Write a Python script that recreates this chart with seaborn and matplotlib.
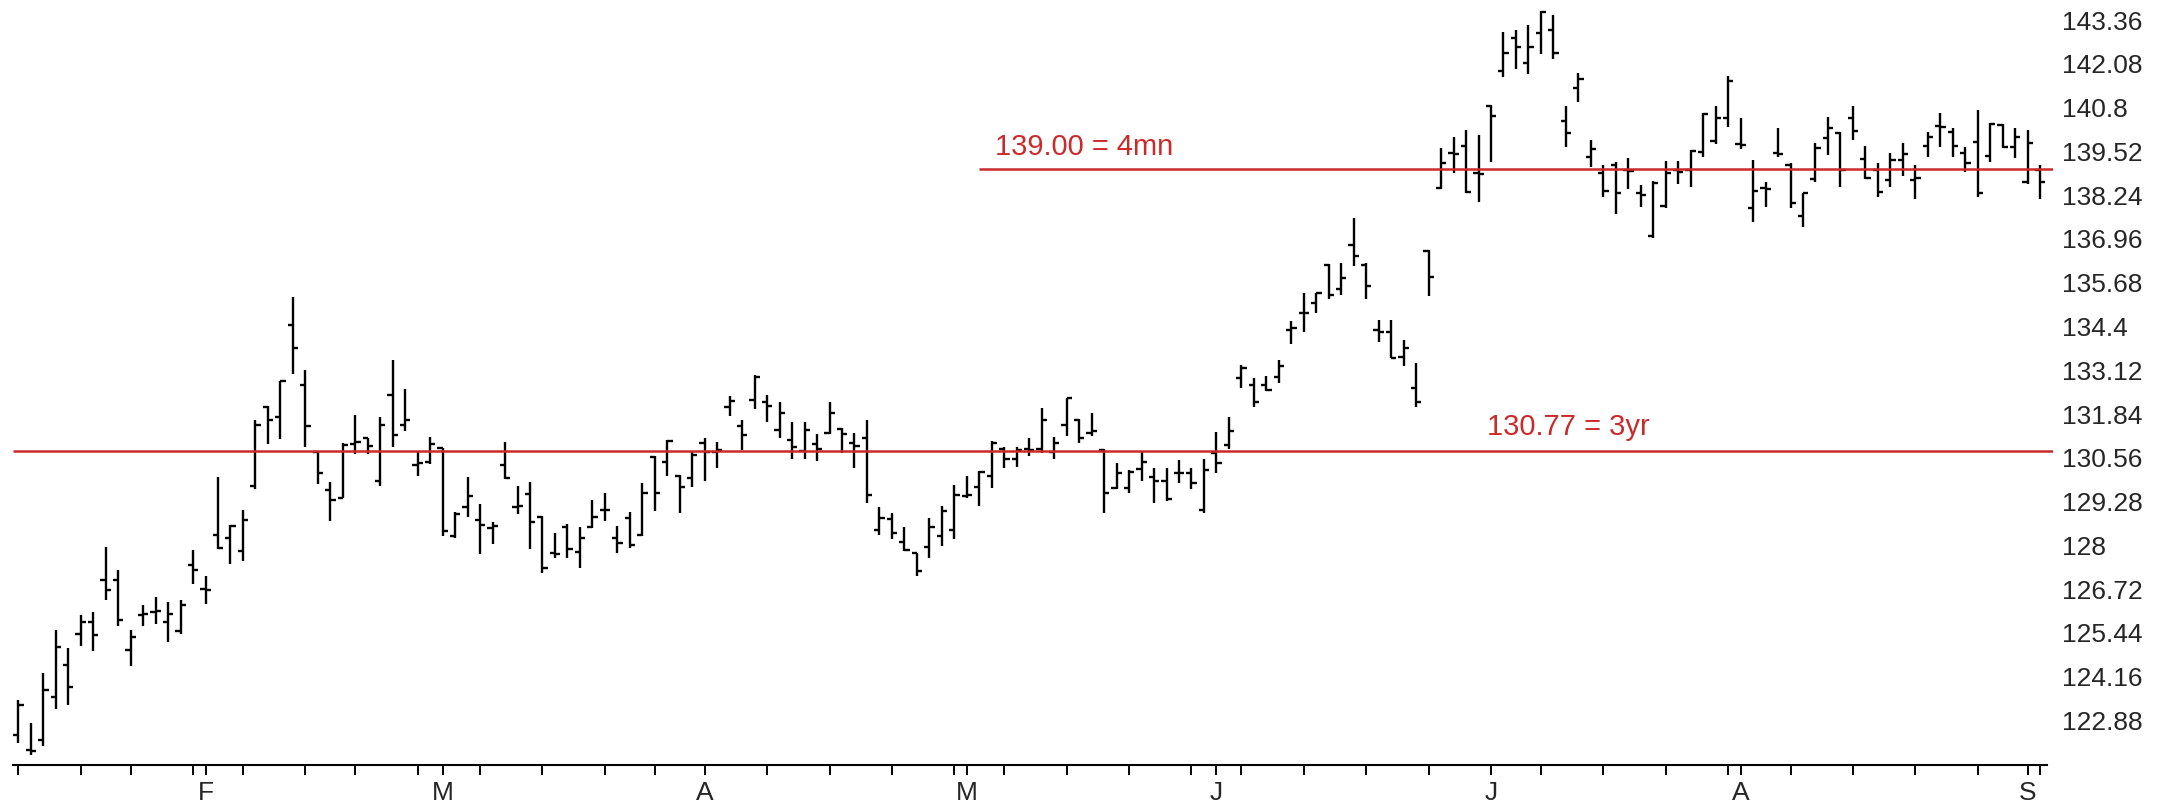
import matplotlib
matplotlib.use("Agg")
import matplotlib.pyplot as plt
import pandas as pd
import seaborn as sns

# daily price bars, mid January to early September
opens = [122.46, 122.02, 122.30, 123.58, 124.51, 125.40, 125.76, 126.98, 126.98, 124.93,
         125.97, 126.04, 125.76, 125.50, 127.43, 126.73, 128.31, 128.23, 127.84, 129.73,
         132.06, 131.74, 134.43, 132.68, 130.72, 129.61, 129.40, 130.97, 131.15, 129.89,
         132.39, 131.52, 130.34, 130.44, 130.86, 128.28, 129.12, 128.73, 128.50, 130.34,
         129.12, 129.51, 128.84, 127.79, 128.53, 127.81, 128.53, 129.03, 128.23, 128.81,
         128.30, 130.59, 130.43, 130.03, 129.96, 131.00, 130.74, 132.05, 131.49, 132.25,
         132.20, 131.37, 131.08, 130.76, 130.95, 131.29, 131.40, 130.98, 131.13, 128.45,
         128.76, 128.09, 127.77, 127.96, 128.28, 128.45, 129.45, 129.70, 130.04, 130.83,
         130.54, 130.81, 130.81, 130.74, 131.52, 131.66, 131.30, 130.79, 129.67, 129.67,
         130.22, 130.01, 129.89, 130.11, 130.11, 129.03, 130.69, 130.93, 132.88, 132.69,
         132.69, 132.93, 134.29, 134.78, 135.08, 136.20, 135.51, 136.78, 136.20, 134.30,
         134.25, 133.50, 132.61, 136.61, 138.46, 139.48, 139.68, 138.90, 140.85, 141.88,
         142.82, 142.11, 142.97, 143.07, 140.42, 141.36, 139.35, 138.88, 139.12, 138.97,
         138.29, 137.05, 137.92, 138.97, 138.97, 139.51, 139.83, 140.49, 139.73, 137.85,
         138.46, 139.46, 139.12, 137.63, 138.70, 139.92, 140.07, 140.49, 139.29, 138.97,
         138.68, 139.27, 138.68, 139.68, 140.26, 140.10, 139.48, 139.80, 139.38, 140.29,
         139.66, 138.63, 138.97]
highs = [123.47, 122.82, 124.27, 125.52, 125.00, 125.97, 126.04, 127.95, 127.29, 125.53,
         126.25, 126.49, 126.35, 126.39, 127.86, 127.11, 130.00, 128.60, 129.04, 131.66,
         132.09, 132.82, 135.26, 133.12, 130.72, 129.85, 131.00, 131.80, 131.15, 131.74,
         133.43, 132.56, 130.76, 131.17, 130.86, 128.97, 130.01, 129.20, 128.67, 131.02,
         129.74, 129.85, 128.87, 128.37, 128.64, 128.53, 129.33, 129.53, 128.57, 128.98,
         129.83, 130.61, 131.08, 130.06, 130.74, 131.13, 131.01, 132.38, 131.66, 132.98,
         132.40, 132.18, 131.60, 131.60, 131.27, 132.18, 131.42, 131.29, 131.66, 129.13,
         128.95, 128.53, 127.77, 128.81, 129.16, 129.76, 130.03, 130.18, 131.06, 130.88,
         130.88, 131.13, 132.02, 131.18, 132.32, 131.71, 131.88, 130.83, 130.40, 130.20,
         130.74, 130.25, 130.27, 130.49, 130.27, 130.54, 131.32, 131.76, 133.27, 132.88,
         132.95, 133.42, 134.57, 135.37, 135.39, 136.24, 136.26, 137.58, 136.26, 134.59,
         134.59, 134.00, 133.34, 136.63, 139.61, 139.95, 140.14, 139.99, 140.88, 143.00,
         143.07, 143.21, 143.63, 143.51, 140.85, 141.82, 139.85, 139.12, 139.22, 139.32,
         138.54, 138.65, 139.24, 139.24, 139.56, 140.63, 140.85, 141.72, 140.49, 139.27,
         138.61, 140.21, 139.17, 138.31, 139.76, 140.51, 140.10, 140.85, 139.69, 139.17,
         139.46, 139.76, 139.12, 140.10, 140.63, 140.19, 139.66, 140.73, 140.34, 140.32,
         140.19, 140.14, 139.12]
lows = [122.22, 121.86, 122.15, 123.23, 123.32, 125.06, 124.91, 126.39, 125.64, 124.48,
        125.64, 125.71, 125.19, 125.42, 126.88, 126.28, 127.89, 127.46, 127.53, 129.66,
        130.96, 131.12, 133.01, 130.89, 129.80, 128.71, 129.38, 130.68, 130.68, 129.75,
        130.89, 131.33, 130.03, 130.39, 128.28, 128.21, 128.83, 127.74, 128.03, 129.94,
        128.93, 127.89, 127.18, 127.62, 127.62, 127.33, 128.50, 128.72, 127.77, 127.93,
        128.27, 129.00, 130.03, 128.94, 129.72, 129.89, 130.25, 131.79, 130.79, 131.99,
        131.62, 131.13, 130.54, 130.54, 130.47, 131.27, 130.69, 130.25, 129.23, 128.30,
        128.20, 127.83, 127.10, 127.62, 127.99, 128.20, 129.40, 129.16, 129.67, 130.25,
        130.30, 130.61, 130.71, 130.54, 131.20, 130.98, 131.20, 128.94, 129.64, 129.52,
        129.88, 129.23, 129.31, 129.81, 129.64, 128.94, 130.11, 130.83, 132.59, 132.05,
        132.52, 132.74, 133.90, 134.25, 134.78, 135.19, 135.32, 136.17, 135.19, 133.95,
        133.47, 133.24, 132.05, 135.29, 138.41, 138.88, 138.29, 138.05, 139.20, 141.70,
        141.92, 141.78, 142.37, 142.21, 139.66, 140.97, 139.07, 138.20, 137.69, 138.42,
        137.90, 136.98, 137.85, 138.58, 138.49, 139.36, 139.73, 140.24, 139.59, 137.46,
        137.90, 139.35, 137.85, 137.32, 138.63, 139.41, 138.49, 139.85, 138.70, 138.20,
        138.49, 138.80, 138.12, 139.36, 139.66, 139.36, 138.93, 138.20, 139.22, 139.61,
        139.32, 138.58, 138.12]
closes = [123.34, 122.00, 123.76, 125.03, 123.86, 125.76, 125.38, 126.70, 125.81, 125.31,
          126.00, 126.07, 126.00, 126.25, 127.29, 126.70, 127.91, 128.57, 128.73, 131.52,
          131.66, 132.82, 133.77, 131.50, 130.13, 129.32, 130.94, 131.02, 130.91, 131.52,
          131.22, 131.66, 130.42, 130.97, 128.41, 128.93, 129.45, 128.60, 128.57, 129.97,
          129.14, 128.67, 127.33, 127.75, 127.89, 128.23, 128.84, 129.03, 128.08, 128.01,
          129.52, 129.54, 131.06, 129.70, 130.64, 130.72, 130.79, 132.23, 131.23, 132.93,
          132.08, 131.88, 130.89, 131.37, 130.81, 131.88, 131.27, 130.92, 129.47, 128.79,
          128.35, 127.86, 127.26, 128.53, 129.01, 129.47, 129.47, 130.15, 131.00, 130.54,
          130.79, 130.79, 131.66, 130.98, 132.30, 131.13, 131.34, 129.52, 130.11, 130.15,
          130.45, 129.89, 129.37, 130.11, 129.81, 130.20, 130.40, 131.35, 133.20, 132.20,
          132.54, 133.24, 134.37, 134.80, 135.37, 135.32, 135.81, 136.46, 135.59, 134.25,
          133.47, 133.76, 132.20, 135.85, 139.17, 139.44, 138.34, 138.86, 140.55, 142.39,
          142.58, 142.58, 143.60, 142.39, 140.05, 141.65, 139.58, 138.37, 138.29, 138.95,
          138.25, 138.60, 138.90, 138.92, 139.54, 140.61, 140.49, 141.59, 139.71, 138.37,
          138.42, 139.44, 138.00, 138.29, 139.61, 140.19, 138.97, 140.12, 138.73, 138.34,
          139.27, 139.44, 138.73, 139.93, 140.24, 139.68, 139.17, 138.31, 140.32, 139.66,
          139.95, 139.75, 138.63]

# reference levels drawn in red
level_3yr = 130.77
level_4mn = 139.00
level_4mn_start = 77  # first bar of the four month window

# x axis: bar numbers of the weekly ticks and of the month starts
week_ticks = [0, 5, 9, 14, 18, 23, 27, 32, 37, 42, 47, 51, 55, 60, 65, 70, 75, 79, 84, 89,
              94, 98, 103, 108, 113, 118, 122, 127, 132, 137, 142, 147, 152, 157, 162]
month_ticks = [15, 34, 55, 76, 96, 118, 138, 161]
month_labels = ["F", "M", "A", "M", "J", "J", "A", "S"]

price_ticks = [122.88, 124.16, 125.44, 126.72, 128.00, 129.28, 130.56, 131.84, 133.12,
               134.40, 135.68, 136.96, 138.24, 139.52, 140.80, 142.08, 143.36]

bars = pd.DataFrame({"open": opens, "high": highs, "low": lows, "close": closes})
bars["bar"] = range(len(bars))

sns.set_theme(style="white")
plt.rcParams["font.family"] = ["Liberation Sans", "DejaVu Sans"]

RED = "#cc2a2a"
fig = plt.figure(figsize=(21.65, 8.08), dpi=100)
ax = fig.add_axes([13 / 2165, 43 / 808, 2040 / 2165, 765 / 808])

# OHLC bars: high-low line, open tick to the left, close tick to the right
ax.vlines(bars["bar"], bars["low"], bars["high"], color="black", lw=1.7)
ax.hlines(bars["open"], bars["bar"] - 0.42, bars["bar"], color="black", lw=1.7)
ax.hlines(bars["close"], bars["bar"], bars["bar"] + 0.42, color="black", lw=1.7)

x0, x1 = -0.425, 163.03
ax.set_xlim(x0, x1)
ax.set_ylim(121.58, 143.945)

ax.hlines(level_3yr, x0, x1, color=RED, lw=1.8)
ax.hlines(level_4mn, level_4mn_start, x1, color=RED, lw=1.8)
ax.annotate(f"{level_4mn:.2f} = 4mn", (level_4mn_start, level_4mn), xytext=(11, 10),
            textcoords="offset points", color=RED, fontsize=21, va="baseline")
ax.annotate(f"{level_3yr:.2f} = 3yr", (117.7, level_3yr), xytext=(0, 11),
            textcoords="offset points", color=RED, fontsize=21, va="baseline")

# axes decoration
sns.despine(ax=ax, left=True, right=True, top=True)
ax.spines["bottom"].set_linewidth(1.5)
ax.spines["bottom"].set_color("black")
ax.spines["bottom"].set_bounds(x0, 162.56)

all_ticks = sorted(set(week_ticks) | set(month_ticks))
label_at = dict(zip(month_ticks, month_labels))
ax.set_xticks(all_ticks)
ax.set_xticklabels([label_at.get(t, "") for t in all_ticks])
ax.tick_params(axis="x", bottom=True, direction="out", length=7.2, width=1.4,
               color="black", labelsize=19, pad=4)

ax.yaxis.tick_right()
ax.set_yticks(price_ticks)
ax.set_yticklabels([f"{v:g}" for v in price_ticks])
ax.tick_params(axis="y", left=False, right=False, length=0, labelsize=19, pad=6.5)

fig.savefig("out.png", dpi=100, facecolor="white")
